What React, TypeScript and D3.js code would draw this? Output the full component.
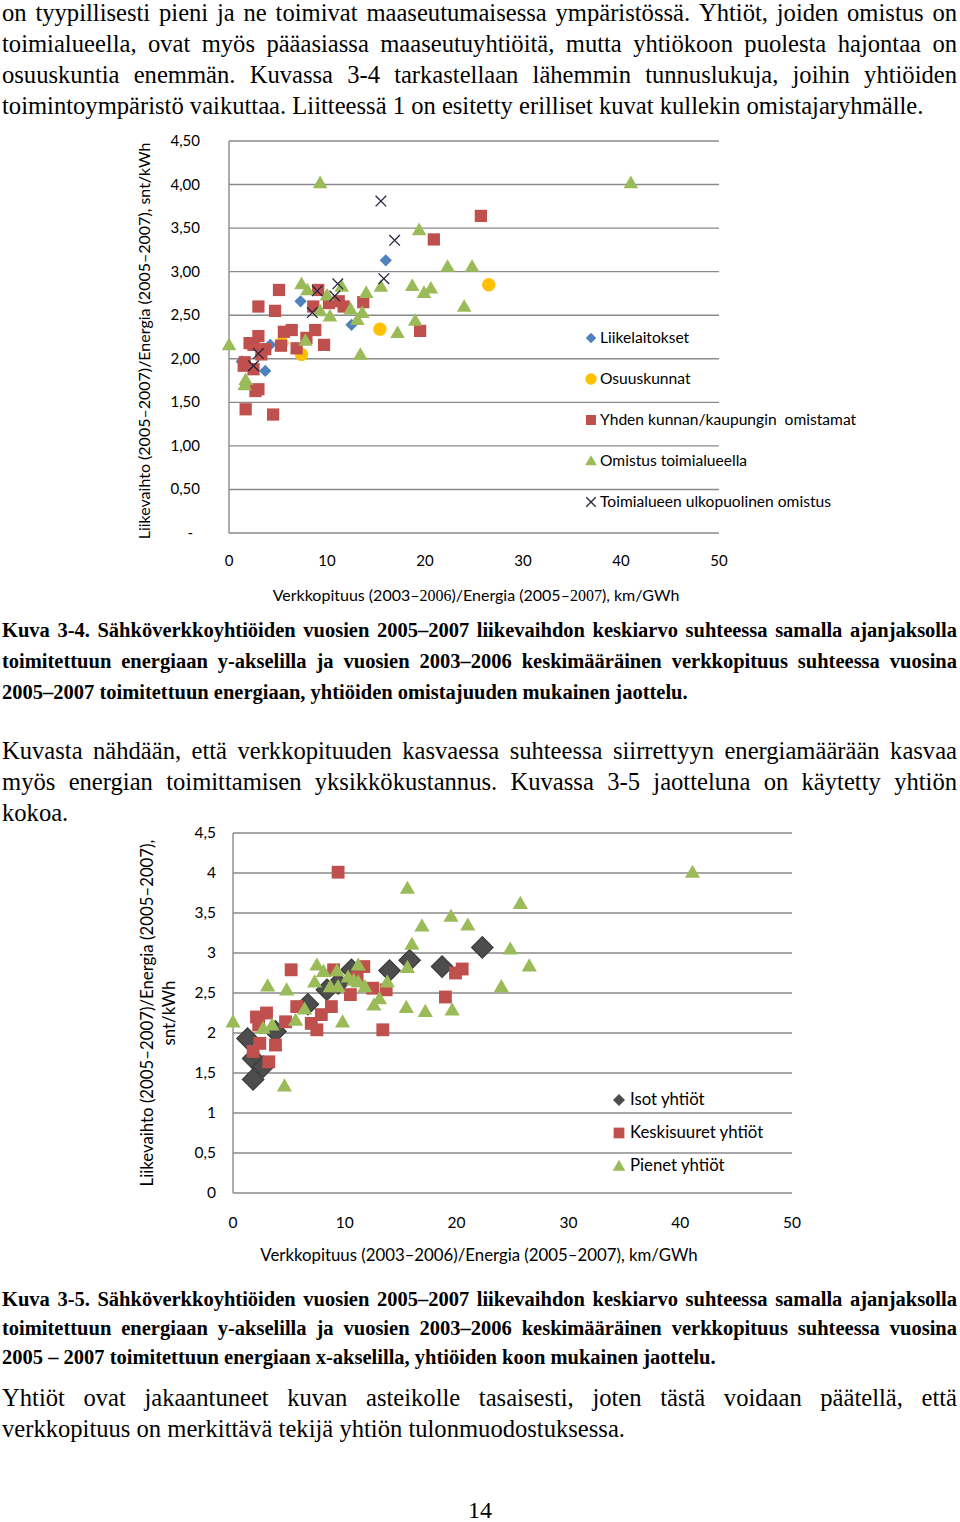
import React, { useLayoutEffect, useRef, useState, useEffect } from 'react';
import * as d3 from 'd3';

const SERIF = '"Liberation Serif", "Times New Roman", serif';
const SANS = 'Lato, "Open Sans", sans-serif';

type P = [number, number];

// ---------- Chart 3-4 data (x: km/GWh, y: snt/kWh) ----------
const liikelaitokset: P[] = [[16.0, 3.13], [7.3, 2.66], [12.5, 2.39], [4.2, 2.16], [3.7, 1.86], [1.3, 1.97]];
const osuuskunnat: P[] = [[26.5, 2.85], [15.4, 2.34], [7.4, 2.05], [5.4, 2.18]];
const yhdenKunnan: P[] = [[25.7, 3.64], [20.9, 3.37], [19.5, 2.32], [13.7, 2.65], [5.1, 2.79], [3.0, 2.60], [4.7, 2.55], [9.1, 2.79], [8.6, 2.60], [10.2, 2.64], [11.2, 2.66], [11.7, 2.60], [6.4, 2.33], [5.6, 2.31], [8.8, 2.33], [9.7, 2.16], [7.9, 2.24], [6.9, 2.12], [5.3, 2.15], [3.0, 2.26], [2.1, 2.18], [3.3, 2.05], [1.6, 1.96], [1.5, 1.92], [2.5, 1.88], [3.0, 1.65], [2.7, 1.63], [1.7, 1.42], [4.5, 1.36], [3.7, 2.11], [2.5, 2.16]];
const omistusToimialueella: P[] = [[9.3, 4.02], [41.0, 4.02], [19.4, 3.48], [22.3, 3.06], [24.8, 3.06], [18.7, 2.84], [19.9, 2.76], [20.6, 2.81], [24.0, 2.60], [19.0, 2.44], [17.2, 2.30], [13.4, 2.05], [15.5, 2.83], [14.0, 2.76], [13.6, 2.53], [13.1, 2.45], [12.4, 2.57], [11.5, 2.83], [10.3, 2.49], [9.3, 2.55], [10.0, 2.73], [7.4, 2.86], [8.0, 2.79], [7.8, 2.21], [0.0, 2.16], [1.7, 1.76], [1.6, 1.70]];
const ulkopuolinen: P[] = [[15.5, 3.81], [16.9, 3.36], [15.8, 2.92], [11.1, 2.86], [9.0, 2.78], [10.8, 2.72], [8.5, 2.53], [3.0, 2.06], [2.5, 1.92]];

// ---------- Chart 3-5 data ----------
const isot: P[] = [[22.3, 3.07], [18.7, 2.83], [15.8, 2.91], [14.0, 2.78], [10.6, 2.79], [9.4, 2.62], [8.4, 2.54], [6.7, 2.36], [3.8, 2.02], [1.3, 1.93], [1.8, 1.68], [2.7, 1.58], [1.8, 1.42]];
const keskisuuret: P[] = [[9.4, 4.01], [5.2, 2.79], [9.0, 2.79], [11.7, 2.83], [20.5, 2.80], [19.9, 2.75], [19.0, 2.45], [13.4, 2.04], [12.5, 2.56], [13.7, 2.54], [10.5, 2.48], [8.8, 2.33], [7.9, 2.23], [7.0, 2.12], [7.5, 2.04], [5.7, 2.33], [4.7, 2.14], [3.0, 2.25], [2.1, 2.20], [2.3, 2.10], [3.8, 1.85], [2.4, 1.87], [1.8, 1.77], [3.2, 1.64], [11.1, 2.70]];
const pienet: P[] = [[41.1, 4.01], [15.6, 3.81], [25.7, 3.62], [19.5, 3.46], [21.0, 3.35], [16.9, 3.34], [16.0, 3.11], [24.8, 3.05], [26.5, 2.84], [15.6, 2.82], [24.0, 2.58], [13.8, 2.64], [13.1, 2.43], [12.6, 2.35], [15.5, 2.32], [17.2, 2.27], [19.6, 2.29], [11.2, 2.85], [11.8, 2.58], [10.3, 2.70], [9.4, 2.58], [8.7, 2.58], [8.1, 2.77], [7.5, 2.85], [9.3, 2.78], [7.3, 2.64], [3.1, 2.59], [4.8, 2.54], [6.4, 2.30], [5.6, 2.16], [9.8, 2.14], [0.0, 2.14], [3.5, 2.10], [2.7, 2.06], [4.6, 1.34], [10.8, 2.66], [11.2, 2.64]];

// ---------- ticks ----------
const xTicks = [0, 10, 20, 30, 40, 50];
const yTicks = [0, 0.5, 1, 1.5, 2, 2.5, 3, 3.5, 4, 4.5];
const yTickLabels1 = ['-', '0,50', '1,00', '1,50', '2,00', '2,50', '3,00', '3,50', '4,00', '4,50'];
const yTickLabels2 = ['0', '0,5', '1', '1,5', '2', '2,5', '3', '3,5', '4', '4,5'];

// ---------- text ----------
const para1 = [
  { t: 'on tyypillisesti pieni ja ne toimivat maaseutumaisessa ympäristössä. Yhtiöt, joiden omistus on', j: true },
  { t: 'toimialueella, ovat myös pääasiassa maaseutuyhtiöitä, mutta yhtiökoon puolesta hajontaa on', j: true },
  { t: 'osuuskuntia enemmän. Kuvassa 3-4 tarkastellaan lähemmin tunnuslukuja, joihin yhtiöiden', j: true },
  { t: 'toimintoympäristö vaikuttaa. Liitteessä 1 on esitetty erilliset kuvat kullekin omistajaryhmälle.', j: false },
];
const caption1 = [
  { t: 'Kuva 3-4. Sähköverkkoyhtiöiden vuosien 2005–2007 liikevaihdon keskiarvo suhteessa samalla ajanjaksolla', j: true },
  { t: 'toimitettuun energiaan y-akselilla ja vuosien 2003–2006 keskimääräinen verkkopituus suhteessa vuosina', j: true },
  { t: '2005–2007 toimitettuun energiaan, yhtiöiden omistajuuden mukainen jaottelu.', j: false },
];
const para2 = [
  { t: 'Kuvasta nähdään, että verkkopituuden kasvaessa suhteessa siirrettyyn energiamäärään kasvaa', j: true },
  { t: 'myös energian toimittamisen yksikkökustannus. Kuvassa 3-5 jaotteluna on käytetty yhtiön', j: true },
  { t: 'kokoa.', j: false },
];
const caption2 = [
  { t: 'Kuva 3-5. Sähköverkkoyhtiöiden vuosien 2005–2007 liikevaihdon keskiarvo suhteessa samalla ajanjaksolla', j: true },
  { t: 'toimitettuun energiaan y-akselilla ja vuosien 2003–2006 keskimääräinen verkkopituus suhteessa vuosina', j: true },
  { t: '2005 – 2007 toimitettuun energiaan x-akselilla, yhtiöiden koon mukainen jaottelu.', j: false },
];
const para3 = [
  { t: 'Yhtiöt ovat jakaantuneet kuvan asteikolle tasaisesti, joten tästä voidaan päätellä, että', j: true },
  { t: 'verkkopituus on merkittävä tekijä yhtiön tulonmuodostuksessa.', j: false },
];

const COLORS = {
  blue: '#4F81BD',
  yellow: '#FFC000',
  red: '#C0504D',
  green: '#9BBB59',
  x: '#24243e',
  gray: '#4D4D4D',
  grid: '#8a8a8a',
};

type Shape = 'diamond' | 'circle' | 'square' | 'triangle' | 'x';

function markerPath(shape: Shape, size: number): string {
  switch (shape) {
    case 'diamond': return d3.symbol(d3.symbolSquare, size)()!;
    case 'circle': return d3.symbol(d3.symbolCircle, size)()!;
    case 'square': return d3.symbol(d3.symbolSquare, size)()!;
    case 'triangle': return d3.symbol(d3.symbolTriangle, size)()!;
    case 'x': return d3.symbol(d3.symbolX, size)()!;
  }
}

function Marker({ shape, size, color, stroke, x, y }: { shape: Shape; size: number; color: string; stroke?: string; x: number; y: number }) {
  const d = markerPath(shape, size);
  const rot = shape === 'diamond' ? ' rotate(45)' : '';
  const dy = shape === 'triangle' ? Math.sqrt(size) * 0.12 : 0;
  if (shape === 'x') {
    return <path d={d} transform={`translate(${x},${y})`} fill="none" stroke={color} strokeWidth={1.3} />;
  }
  return <path d={d} transform={`translate(${x},${y + dy})${rot}`} fill={color} stroke={stroke || 'none'} strokeWidth={stroke ? 1.2 : 0} />;
}

function useFontsReady() {
  const [n, setN] = useState(0);
  useEffect(() => {
    (document as any).fonts?.ready?.then(() => setN(1));
  }, []);
  return n;
}

function JLine({ x0, x1, y, text, justify, size, weight, ready }: any) {
  const ref = useRef<SVGGElement>(null);
  const words = text.split(' ');
  useLayoutEffect(() => {
    if (!justify) return;
    const g = ref.current;
    if (!g) return;
    const els = Array.from(g.querySelectorAll('text')) as SVGTextElement[];
    const widths = els.map(e => e.getComputedTextLength());
    const total = d3.sum(widths);
    const gap = (x1 - x0 - total) / Math.max(1, words.length - 1);
    let cx = x0;
    els.forEach((e, i) => { e.setAttribute('x', String(cx)); cx += widths[i] + gap; });
  }, [text, ready, justify]);
  const common = { fontFamily: SERIF, fontSize: size, fontWeight: weight || 'normal', fill: '#000' };
  if (!justify) return <text x={x0} y={y} {...common}>{text}</text>;
  return <g ref={ref}>{words.map((w: string, i: number) => <text key={i} x={x0} y={y} {...common}>{w}</text>)}</g>;
}

function Paragraph({ lines, y0, lh, size, weight, ready }: any) {
  return (
    <g>
      {lines.map((l: any, i: number) => (
        <JLine key={i} x0={2} x1={957} y={y0 + i * lh} text={l.t} justify={l.j} size={size} weight={weight} ready={ready} />
      ))}
    </g>
  );
}

type Series = { name: string; data: P[]; shape: Shape; color: string; stroke?: string; size: number; legendSize: number };

function Chart1() {
  const x = d3.scaleLinear().domain([0, 50]).range([229, 719]);
  const y = d3.scaleLinear().domain([0, 4.5]).range([533, 141]);
  const series: Series[] = [
    { name: 'Liikelaitokset', data: liikelaitokset, shape: 'diamond', color: COLORS.blue, size: 75, legendSize: 55 },
    { name: 'Osuuskunnat', data: osuuskunnat, shape: 'circle', color: COLORS.yellow, size: 140, legendSize: 100 },
    { name: 'Yhden kunnan/kaupungin  omistamat', data: yhdenKunnan, shape: 'square', color: COLORS.red, size: 150, legendSize: 100 },
    { name: 'Omistus toimialueella', data: omistusToimialueella, shape: 'triangle', color: COLORS.green, size: 92, legendSize: 60 },
    { name: 'Toimialueen ulkopuolinen omistus', data: ulkopuolinen, shape: 'x', color: COLORS.x, size: 75, legendSize: 60 },
  ];
  const fs = 15;
  const fsL = 15.6;
  const fsT = 16;
  return (
    <g>
      {yTicks.filter(t => t > 0).map(t => (
        <line key={t} x1={x(0)} x2={x(50)} y1={y(t)} y2={y(t)} stroke={COLORS.grid} strokeWidth={1.4} />
      ))}
      <line x1={x(0)} x2={x(50)} y1={y(0)} y2={y(0)} stroke={COLORS.grid} strokeWidth={1.4} />
      <line x1={x(0)} x2={x(0)} y1={y(0)} y2={y(4.5)} stroke={COLORS.grid} strokeWidth={1.4} />
      {yTicks.map((t, i) => (
        <text key={t} x={x(0) - (t === 0 ? 36 : 29)} y={y(t) + 5} textAnchor="end" fontFamily={SANS} fontSize={fs} fill="#000">{yTickLabels1[i]}</text>
      ))}
      {xTicks.map(t => (
        <text key={t} x={x(t)} y={y(0) + 33} textAnchor="middle" fontFamily={SANS} fontSize={fs} fill="#000">{t}</text>
      ))}
      {series.map(s => (
        <g key={s.name}>
          {s.data.map((p, i) => <Marker key={i} shape={s.shape} size={s.size} color={s.color} stroke={s.stroke} x={x(p[0])} y={y(p[1])} />)}
        </g>
      ))}
      {series.map((s, i) => (
        <g key={'lg' + i}>
          <Marker shape={s.shape} size={s.legendSize} color={s.color} x={591} y={338 + i * 41} />
          <text x={600} y={338 + i * 41 + 5} fontFamily={SANS} fontSize={fsL} fill="#000" style={{ whiteSpace: 'pre' }}>{s.name}</text>
        </g>
      ))}
      <text x={476} y={601} textAnchor="middle" fontFamily={SANS} fontSize={fsT} fill="#000">
        <tspan>Verkkopituus (2003–</tspan><tspan fontFamily={SERIF}>2006</tspan><tspan>)/Energia (2005–</tspan><tspan fontFamily={SERIF}>2007</tspan><tspan>), km/GWh</tspan>
      </text>
      <text transform="translate(150,341) rotate(-90)" textAnchor="middle" fontFamily={SANS} fontSize={fsT} fill="#000">
        Liikevaihto (2005–2007)/Energia (2005–2007), snt/kWh
      </text>
    </g>
  );
}

function Chart2() {
  const x = d3.scaleLinear().domain([0, 50]).range([233, 792]);
  const y = d3.scaleLinear().domain([0, 4.5]).range([1193, 833]);
  const series: Series[] = [
    { name: 'Isot yhtiöt', data: isot, shape: 'diamond', color: COLORS.gray, stroke: '#3a3a3a', size: 230, legendSize: 72 },
    { name: 'Keskisuuret yhtiöt', data: keskisuuret, shape: 'square', color: COLORS.red, size: 165, legendSize: 115 },
    { name: 'Pienet yhtiöt', data: pienet, shape: 'triangle', color: COLORS.green, size: 100, legendSize: 70 },
  ];
  const fs = 15.5;
  const fsT = 16.8;
  return (
    <g>
      {yTicks.filter(t => t > 0).map(t => (
        <line key={t} x1={x(0)} x2={x(50)} y1={y(t)} y2={y(t)} stroke={COLORS.grid} strokeWidth={1.4} />
      ))}
      <line x1={x(0)} x2={x(50)} y1={y(0)} y2={y(0)} stroke={COLORS.grid} strokeWidth={1.4} />
      <line x1={x(0)} x2={x(0)} y1={y(0)} y2={y(4.5)} stroke={COLORS.grid} strokeWidth={1.4} />
      {yTicks.map((t, i) => (
        <text key={t} x={x(0) - 17} y={y(t) + 5} textAnchor="end" fontFamily={SANS} fontSize={fs} fill="#000">{yTickLabels2[i]}</text>
      ))}
      {xTicks.map(t => (
        <text key={t} x={x(t)} y={y(0) + 35} textAnchor="middle" fontFamily={SANS} fontSize={fs} fill="#000">{t}</text>
      ))}
      {series.map(s => (
        <g key={s.name}>
          {s.data.map((p, i) => <Marker key={i} shape={s.shape} size={s.size} color={s.color} stroke={s.stroke} x={x(p[0])} y={y(p[1])} />)}
        </g>
      ))}
      {series.map((s, i) => (
        <g key={'lg' + i}>
          <Marker shape={s.shape} size={s.legendSize} color={s.color} x={619} y={1100 + i * 33} />
          <text x={630} y={1100 + i * 33 + 5} fontFamily={SANS} fontSize={fsT} fill="#000">{s.name}</text>
        </g>
      ))}
      <text x={479} y={1261} textAnchor="middle" fontFamily={SANS} fontSize={fsT} fill="#000">
        Verkkopituus (2003–2006)/Energia (2005–2007), km/GWh
      </text>
      <text transform="translate(153,1013) rotate(-90)" textAnchor="middle" fontFamily={SANS} fontSize={fsT} fill="#000">
        Liikevaihto (2005–2007)/Energia (2005–2007),
      </text>
      <text transform="translate(175,1013) rotate(-90)" textAnchor="middle" fontFamily={SANS} fontSize={fsT} fill="#000">
        snt/kWh
      </text>
    </g>
  );
}

export default function App() {
  const ready = useFontsReady();
  return (
    <svg width={960} height={1522} style={{ position: 'absolute', left: 0, top: 0, background: '#fff' }}>
      <rect x={0} y={0} width={960} height={1522} fill="#fff" />
      <Paragraph lines={para1} y0={21} lh={31} size={24.6} ready={ready} />
      <Chart1 />
      <Paragraph lines={caption1} y0={637} lh={31} size={20.5} weight="bold" ready={ready} />
      <Paragraph lines={para2} y0={759} lh={31} size={24.6} ready={ready} />
      <Chart2 />
      <Paragraph lines={caption2} y0={1306} lh={29} size={20.5} weight="bold" ready={ready} />
      <Paragraph lines={para3} y0={1406} lh={31} size={24.6} ready={ready} />
      <text x={480} y={1518} textAnchor="middle" fontFamily={SERIF} fontSize={24} fill="#000">14</text>
    </svg>
  );
}
